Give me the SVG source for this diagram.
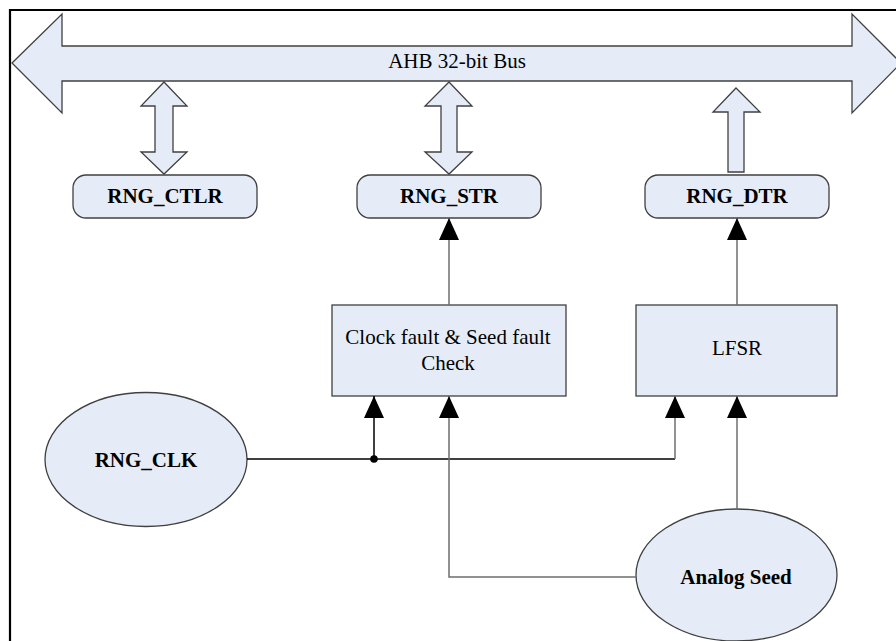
<svg xmlns="http://www.w3.org/2000/svg" width="896" height="641" viewBox="0 0 896 641">
<style>
.shape{fill:#E6ECF7;stroke:#404040;stroke-width:1.3}
text{font-family:'Liberation Serif','DejaVu Serif',serif;font-size:21px;fill:#000;text-anchor:middle}
.b{font-weight:bold}
.gl{fill:none;stroke:#6e6e6e;stroke-width:1.5}
.kl{fill:none;stroke:#000;stroke-width:1.5}
</style>
<defs>
<marker id="ah" viewBox="0 0 22 20" refX="22" refY="10" markerWidth="22" markerHeight="20" markerUnits="userSpaceOnUse" orient="auto">
<path d="M0,0 L22,10 L0,20 z" fill="#000"/>
</marker>
</defs>
<rect width="896" height="641" fill="#fff"/>
<path d="M10,641 L10,10 L896,10" fill="none" stroke="#000" stroke-width="2.2"/>

<g id="bus">
<polygon class="shape" points="12,63 62,14 62,46 852,46 852,14 901,63 852,113 852,81 62,81 62,113"/>
<text font-family="Liberation Serif, serif" x="457" y="68">AHB 32-bit Bus</text>
</g>
<g id="bus-ctlr">
<polygon class="shape" points="164,82 187,106 173,106 173,152 187,152 164,174 141,152 155,152 155,106 141,106"/>
</g>
<g id="bus-str">
<polygon class="shape" points="449,82 472,106 457,106 457,152 472,152 449,174 425,152 441,152 441,106 425,106"/>
</g>
<g id="bus-dtr">
<polygon class="shape" points="736,88 760,112 744,112 744,172 728,172 728,112 713,112"/>
</g>

<g id="rng-ctlr">
<rect class="shape" x="73" y="175" width="184" height="43" rx="13"/>
<text class="b" x="165" y="203">RNG_CTLR</text>
</g>
<g id="rng-str">
<rect class="shape" x="357" y="175" width="184" height="43" rx="13"/>
<text class="b" x="449" y="203">RNG_STR</text>
</g>
<g id="rng-dtr">
<rect class="shape" x="645" y="175" width="184" height="43" rx="13"/>
<text class="b" x="737" y="203">RNG_DTR</text>
</g>

<g id="check">
<rect class="shape" x="332" y="305" width="234" height="91"/>
<text x="448" y="344">Clock fault &amp; Seed fault</text>
<text x="448" y="370">Check</text>
</g>
<g id="lfsr">
<rect class="shape" x="636" y="305" width="201" height="91"/>
<text x="737" y="355">LFSR</text>
</g>

<g id="rng-clk">
<ellipse class="shape" cx="146" cy="459.5" rx="101" ry="67"/>
<text class="b" x="146" y="467">RNG_CLK</text>
</g>
<g id="analog-seed">
<ellipse class="shape" cx="736.5" cy="575" rx="100.5" ry="66"/>
<text class="b" x="736" y="584">Analog Seed</text>
</g>

<g id="connectors">
<path class="gl" d="M449,305 L449,218" marker-end="url(#ah)"/>
<path class="gl" d="M737,305 L737,218" marker-end="url(#ah)"/>
<path class="kl" d="M247,459 L675,459"/>
<path class="kl" d="M374,459 L374,396" marker-end="url(#ah)"/>
<path class="gl" d="M675,459 L675,396" marker-end="url(#ah)"/>
<circle cx="374" cy="459" r="3.8" fill="#000"/>
<path class="gl" d="M737,509 L737,396" marker-end="url(#ah)"/>
<path class="gl" d="M636,577 L449,577 L449,396" marker-end="url(#ah)"/>
</g>
</svg>
